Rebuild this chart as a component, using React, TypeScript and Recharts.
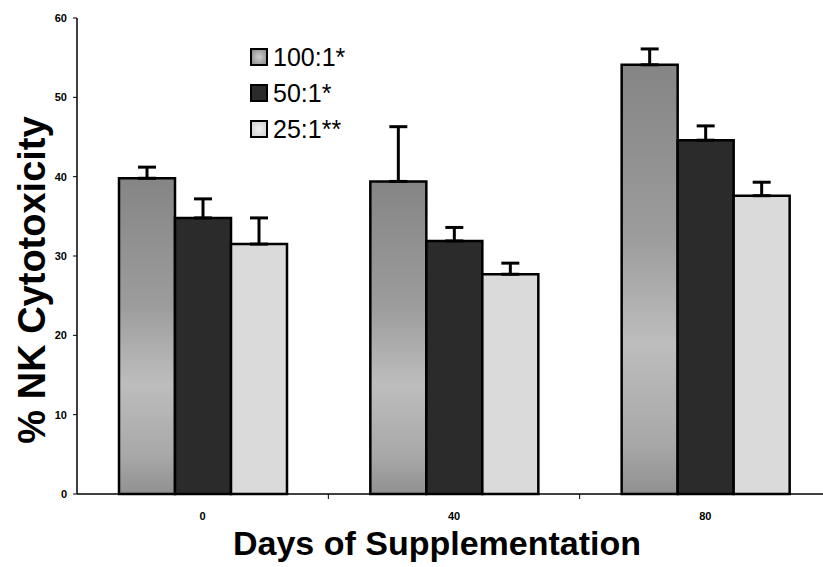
import { Bar, BarChart, ErrorBar, Legend, XAxis, YAxis } from "recharts";

const days = ["0", "40", "80"];
const seriesNames = ["100:1*", "50:1*", "25:1**"];
const ratio100 = [39.8, 39.4, 54.1];
const ratio100Err = [1.4, 6.9, 2.0];
const ratio50 = [34.8, 31.9, 44.6];
const ratio50Err = [2.4, 1.7, 1.8];
const ratio25 = [31.5, 27.7, 37.6];
const ratio25Err = [3.3, 1.4, 1.7];
const yTicks = [0, 10, 20, 30, 40, 50, 60];

const data = days.map((day, i) => ({
  day,
  r100: ratio100[i],
  r100Err: [0, ratio100Err[i]],
  r50: ratio50[i],
  r50Err: [0, ratio50Err[i]],
  r25: ratio25[i],
  r25Err: [0, ratio25Err[i]],
}));

const font = "'Liberation Sans', Arial, sans-serif";

const swatch: Record<string, string> = {
  r100: "radial-gradient(#d0d0d0, #8a8a8a)",
  r50: "#2b2b2b",
  r25: "radial-gradient(#f2f2f2, #d0d0d0)",
};

function LegendBox({ payload }: any) {
  const items = [...(payload || [])].sort(
    (a: any, b: any) => seriesNames.indexOf(a.value) - seriesNames.indexOf(b.value)
  );
  return (
    <div style={{ fontFamily: font, fontSize: 25, lineHeight: "36px", color: "#000" }}>
      {items.map((p: any) => (
        <div key={p.dataKey} style={{ display: "flex", alignItems: "center" }}>
          <span
            style={{
              width: 14,
              height: 14,
              border: "2px solid #000",
              background: swatch[p.dataKey],
              marginRight: 5,
            }}
          />
          {p.value}
        </div>
      ))}
    </div>
  );
}

function DayTick({ x, y, payload, index }: any) {
  const half = payload?.offset ?? 0;
  return (
    <g>
      {index > 0 && half > 0 && (
        <line x1={x - half} x2={x - half} y1={y} y2={y + 5} stroke="#000" strokeWidth={1} />
      )}
      <text x={x} y={y + 18} dy="0.71em" textAnchor="middle" fontFamily={font} fontSize={11} fontWeight="bold" fill="#000">
        {payload.value}
      </text>
    </g>
  );
}

function YTitle({ viewBox }: any) {
  const cx = viewBox.x + 32;
  const cy = viewBox.y + viewBox.height / 2 + 24;
  return (
    <text
      x={cx}
      y={cy}
      transform={`rotate(-90 ${cx} ${cy})`}
      textAnchor="middle"
      dominantBaseline="central"
      fontFamily={font}
      fontSize={38}
      fontWeight="bold"
      fill="#000"
    >
      % NK Cytotoxicity
    </text>
  );
}

function XTitle({ viewBox }: any) {
  const cx = viewBox.x + viewBox.width / 2 - 17;
  const cy = viewBox.y + 49;
  return (
    <text x={cx} y={cy} textAnchor="middle" dominantBaseline="central" fontFamily={font} fontSize={34} fontWeight="bold" fill="#000">
      Days of Supplementation
    </text>
  );
}

export default function App() {
  return (
    <div style={{ position: "absolute", left: 0, top: 0, width: 823, height: 567, overflow: "hidden", background: "#fff" }}>
      <BarChart
        width={831}
        height={567}
        data={data}
        margin={{ top: 18, right: 0, bottom: 0, left: 0 }}
        barCategoryGap={42}
        barGap={0}
      >
        <defs>
          <linearGradient id="g100" x1="0" y1="0" x2="0" y2="1">
            <stop offset="0%" stopColor="#858585" />
            <stop offset="40%" stopColor="#9c9c9c" />
            <stop offset="65%" stopColor="#bdbdbd" />
            <stop offset="88%" stopColor="#a8a8a8" />
            <stop offset="100%" stopColor="#909090" />
          </linearGradient>
        </defs>
        <XAxis
          dataKey="day"
          height={73}
          axisLine={{ stroke: "#000", strokeWidth: 1.5 }}
          tickLine={false}
          tickSize={0}
          tickMargin={0}
          tick={<DayTick />}
          label={<XTitle />}
        />
        <YAxis
          width={77}
          domain={[0, 60]}
          ticks={yTicks}
          interval={0}
          axisLine={{ stroke: "#000", strokeWidth: 1.5 }}
          tickLine={{ stroke: "#000" }}
          tickSize={4}
          tickMargin={6}
          tick={{ fontFamily: font, fontSize: 11, fontWeight: "bold", fill: "#000" }}
          label={<YTitle />}
        />
        <Legend
          layout="vertical"
          align="center"
          verticalAlign="middle"
          wrapperStyle={{ left: 250, top: 39, width: "auto" }}
          content={<LegendBox />}
        />
        <Bar dataKey="r100" name={seriesNames[0]} fill="url(#g100)" stroke="#000" strokeWidth={2.5} isAnimationActive={false}>
          <ErrorBar dataKey="r100Err" direction="y" width={9} stroke="#000" strokeWidth={3} />
        </Bar>
        <Bar dataKey="r50" name={seriesNames[1]} fill="#2b2b2b" stroke="#000" strokeWidth={2.5} isAnimationActive={false}>
          <ErrorBar dataKey="r50Err" direction="y" width={9} stroke="#000" strokeWidth={3} />
        </Bar>
        <Bar dataKey="r25" name={seriesNames[2]} fill="#dadada" stroke="#000" strokeWidth={2.5} isAnimationActive={false}>
          <ErrorBar dataKey="r25Err" direction="y" width={9} stroke="#000" strokeWidth={3} />
        </Bar>
      </BarChart>
    </div>
  );
}
